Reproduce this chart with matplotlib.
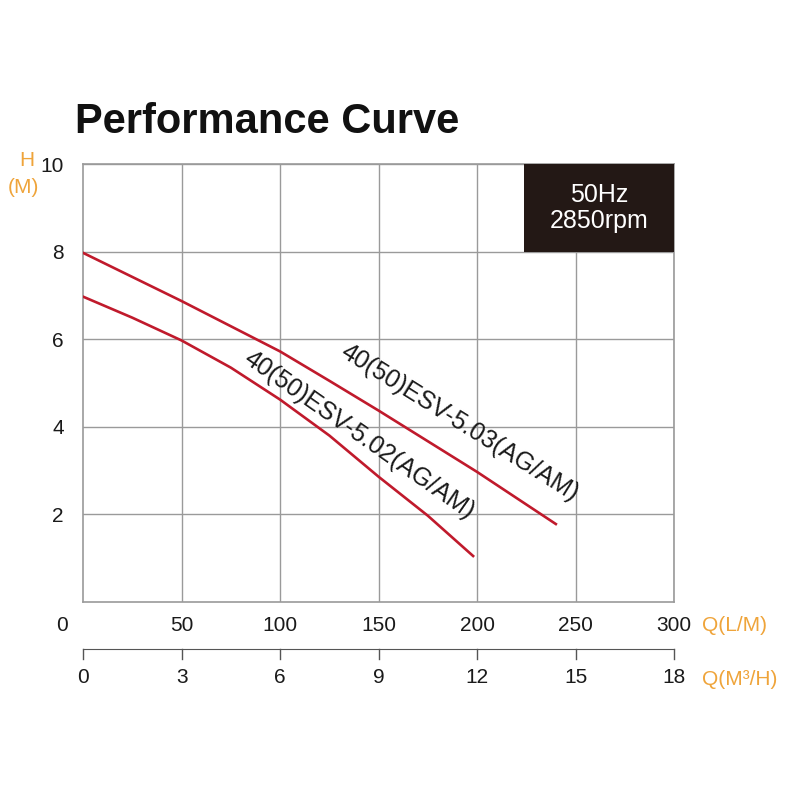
import matplotlib
matplotlib.use('Agg')
import matplotlib.pyplot as plt
from matplotlib.patches import Rectangle

plt.rcParams['font.family'] = ['Liberation Sans', 'DejaVu Sans']

# flow (L/min) vs head (m)
q_503 = [0, 25, 50, 100, 125, 150, 200, 240]
h_503 = [7.97, 7.42, 6.87, 5.72, 5.05, 4.37, 2.97, 1.78]
q_502 = [0, 25, 50, 75, 100, 125, 150, 175, 198]
h_502 = [6.97, 6.49, 5.97, 5.35, 4.62, 3.8, 2.86, 1.97, 1.05]
name_503 = '40(50)ESV-5.03(AG/AM)'
name_502 = '40(50)ESV-5.02(AG/AM)'

lpm_ticks = [50, 100, 150, 200, 250, 300]
m3h_ticks = [0, 3, 6, 9, 12, 15, 18]
h_ticks = [2, 4, 6, 8, 10]

orange = '#EFA43A'
red = '#C01A2C'
grey = '#9a9a9a'
txt = '#1a1a1a'

fig = plt.figure(figsize=(8, 8), dpi=100)
ax = fig.add_axes([0.104, 0.2475, 0.7385, 0.5475])
ax.set_xlim(0, 300)
ax.set_ylim(0, 10)
ax.set_xticks(lpm_ticks)
ax.set_yticks(h_ticks)
ax.tick_params(length=0, labelsize=15, colors=txt)
ax.tick_params(axis='x', pad=10)
ax.tick_params(axis='y', pad=14)
ax.grid(True, color=grey, lw=1)
for s in ax.spines.values():
    s.set_color(grey)
    s.set_linewidth(1.2)

# lone zero sits left of the corner
ax.annotate('0', xy=(0, 0), xycoords='axes fraction', xytext=(-15, -17),
            textcoords='offset points', ha='center', va='center', fontsize=15, color=txt)

ax.plot(q_503, h_503, color=red, lw=1.9, zorder=3)
ax.plot(q_502, h_502, color=red, lw=1.9, zorder=3)
ax.text(191, 4.1, name_503, rotation=-32, ha='center', va='center', fontsize=18, color=txt)
ax.text(140, 3.8, name_502, rotation=-35, ha='center', va='center', fontsize=18, color=txt)

ax.add_patch(Rectangle((224, 8), 76, 2, facecolor='#231815', edgecolor='none', zorder=4, clip_on=False))
ax.text(262, 9, '50Hz\n2850rpm', ha='center', va='center', color='white', fontsize=18,
        linespacing=1.1, zorder=5)

# second flow scale in m3/h
ax2 = fig.add_axes([0.104, 0.18875, 0.7385, 0.01])
ax2.set_xlim(0, 18)
ax2.set_ylim(0, 1)
ax2.set_xticks(m3h_ticks)
ax2.set_yticks([])
for k in ['top', 'left', 'right']:
    ax2.spines[k].set_visible(False)
ax2.spines['bottom'].set_color('#555555')
ax2.patch.set_visible(False)
ax2.tick_params(axis='x', length=0, labelsize=15, colors=txt, pad=14)
for t in m3h_ticks:
    ax2.plot([t, t], [0, -1.25], color='#555555', lw=1, clip_on=False)

fig.text(0.094, 0.847, 'Performance Curve', fontsize=30, fontweight='bold', color='#111111',
         va='center', ha='left')
fig.text(0.034, 0.8, 'H', color=orange, fontsize=15, ha='center', va='center')
fig.text(0.029, 0.766, '(M)', color=orange, fontsize=15, ha='center', va='center')
fig.text(0.878, 0.218, 'Q(L/M)', color=orange, fontsize=15, ha='left', va='center')
fig.text(0.878, 0.151, 'Q(M³/H)', color=orange, fontsize=15, ha='left', va='center')

fig.savefig('out.png', dpi=100, facecolor='white')
